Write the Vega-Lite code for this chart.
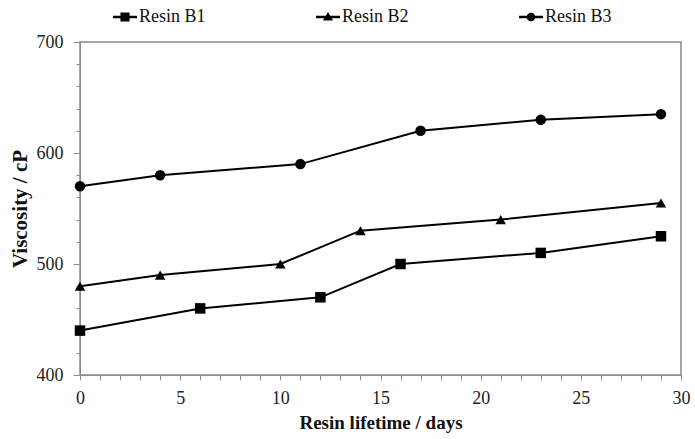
{
  "$schema": "https://vega.github.io/schema/vega-lite/v6.json",
  "width": 601,
  "height": 333,
  "autosize": "none",
  "padding": {"left": 80, "top": 42, "right": 14, "bottom": 64},
  "background": "white",
  "config": {
    "font": "Liberation Serif",
    "view": {"stroke": "#8a8a8a", "strokeWidth": 1.5},
    "axis": {
      "grid": false,
      "domainColor": "#8a8a8a",
      "tickColor": "#8a8a8a",
      "labelFont": "Liberation Serif",
      "labelFontSize": 18,
      "labelColor": "#222",
      "titleFont": "Liberation Serif",
      "titleFontWeight": "bold",
      "titleColor": "#111"
    }
  },
  "data": {
    "values": [
      {"series": "Resin B1", "day": 0, "viscosity": 440},
      {"series": "Resin B1", "day": 6, "viscosity": 460},
      {"series": "Resin B1", "day": 12, "viscosity": 470},
      {"series": "Resin B1", "day": 16, "viscosity": 500},
      {"series": "Resin B1", "day": 23, "viscosity": 510},
      {"series": "Resin B1", "day": 29, "viscosity": 525},
      {"series": "Resin B2", "day": 0, "viscosity": 480},
      {"series": "Resin B2", "day": 4, "viscosity": 490},
      {"series": "Resin B2", "day": 10, "viscosity": 500},
      {"series": "Resin B2", "day": 14, "viscosity": 530},
      {"series": "Resin B2", "day": 21, "viscosity": 540},
      {"series": "Resin B2", "day": 29, "viscosity": 555},
      {"series": "Resin B3", "day": 0, "viscosity": 570},
      {"series": "Resin B3", "day": 4, "viscosity": 580},
      {"series": "Resin B3", "day": 11, "viscosity": 590},
      {"series": "Resin B3", "day": 17, "viscosity": 620},
      {"series": "Resin B3", "day": 23, "viscosity": 630},
      {"series": "Resin B3", "day": 29, "viscosity": 635}
    ]
  },
  "encoding": {
    "x": {
      "field": "day",
      "type": "quantitative",
      "scale": {"domain": [0, 30], "nice": false, "zero": false},
      "axis": {
        "title": "Resin lifetime / days",
        "titleFontSize": 19,
        "values": [0,1,2,3,4,5,6,7,8,9,10,11,12,13,14,15,16,17,18,19,20,21,22,23,24,25,26,27,28,29,30],
        "labelExpr": "datum.value % 5 == 0 ? datum.label : ''",
        "tickSize": 5,
        "labelPadding": 9,
        "titlePadding": 6,
        "labelFlush": false,
        "labelOverlap": false
      }
    },
    "y": {
      "field": "viscosity",
      "type": "quantitative",
      "scale": {"domain": [400, 700], "nice": false, "zero": false},
      "axis": {
        "title": "Viscosity / cP",
        "titleFontSize": 21,
        "values": [400,420,440,460,480,500,520,540,560,580,600,620,640,660,680,700],
        "labelExpr": "datum.value % 100 == 0 ? datum.label : ''",
        "tickSize": {"condition": {"test": "datum.value % 100 == 0", "value": 7}, "value": 4},
        "labelPadding": 10,
        "titlePadding": 6,
        "labelFlush": false,
        "labelOverlap": false
      }
    }
  },
  "layer": [
    {
      "mark": {"type": "line", "color": "black", "strokeWidth": 2},
      "encoding": {"detail": {"field": "series"}}
    },
    {
      "mark": {"type": "point", "filled": true, "color": "black", "size": 110, "opacity": 1},
      "encoding": {
        "shape": {
          "field": "series",
          "type": "nominal",
          "scale": {"range": ["square", "triangle-up", "circle"]},
          "legend": null
        }
      }
    },
    {
      "mark": {"type": "point", "filled": true, "color": "black", "size": 10, "opacity": 0},
      "encoding": {
        "shape": {
          "field": "series",
          "type": "nominal",
          "scale": {"range": [
            "M-1,-0.1H1V0.1H-1ZM-0.38,-0.38H0.38V0.38H-0.38Z",
            "M-1,-0.1H1V0.1H-1ZM0,-0.42L0.42,0.3H-0.42Z",
            "M-1,-0.1H1V0.1H-1ZM0.36,0A0.36,0.36 0 1,1 -0.36,0A0.36,0.36 0 1,1 0.36,0Z"
          ]},
          "legend": {
            "title": null,
            "orient": "none",
            "direction": "horizontal",
            "legendX": 33,
            "legendY": -37,
            "labelFont": "Liberation Serif",
            "labelFontSize": 18,
            "labelColor": "#111",
            "labelOffset": 2,
            "columnPadding": 110,
            "symbolSize": 576,
            "symbolOpacity": 1,
            "symbolFillColor": "black",
            "symbolStrokeColor": "black",
            "symbolStrokeWidth": 0
          }
        }
      }
    }
  ],
  "resolve": {"scale": {"shape": "independent"}, "legend": {"shape": "independent"}}
}
